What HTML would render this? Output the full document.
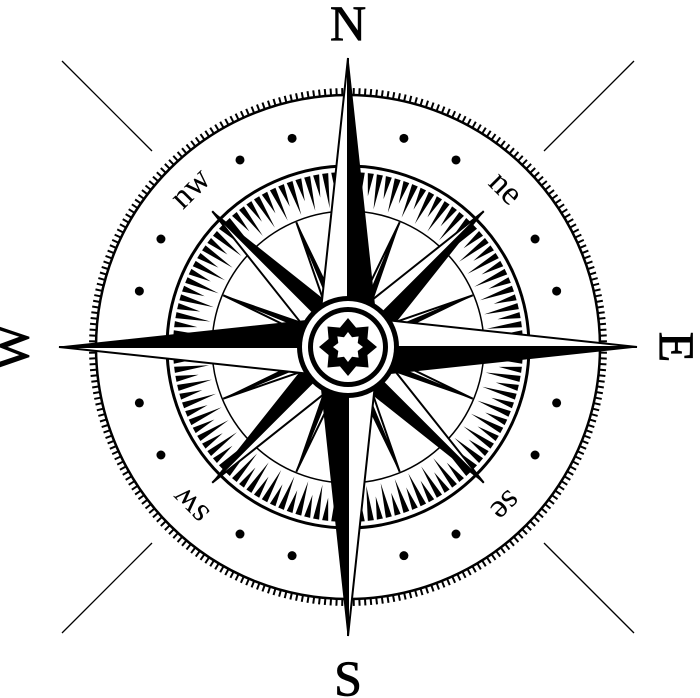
<!DOCTYPE html>
<html><head><meta charset="utf-8"><style>
html,body{margin:0;padding:0;background:#fff;overflow:hidden}
svg{display:block}
text{font-family:"Liberation Serif",serif;fill:#000}
</style></head><body>
<svg id="s" width="700" height="698" viewBox="0 0 700 698" xmlns="http://www.w3.org/2000/svg">
<g stroke="#000" stroke-width="1.3">
<line x1="62" y1="61" x2="152" y2="151"/>
<line x1="634" y1="61" x2="544" y2="151"/>
<line x1="62" y1="633" x2="152" y2="543"/>
<line x1="634" y1="633" x2="544" y2="543"/>
</g>
<text x="348" y="40" font-size="50" text-anchor="middle" stroke="#000" stroke-width="0.8">N</text>
<text x="348" y="695" font-size="50" text-anchor="middle" stroke="#000" stroke-width="0.8">S</text>
<text transform="translate(28,347) rotate(-90)" font-size="50" text-anchor="middle" stroke="#000" stroke-width="0.8">W</text>
<text transform="translate(660,347) rotate(90)" font-size="50" text-anchor="middle" stroke="#000" stroke-width="0.8">E</text>
<circle cx="348" cy="347" r="252" fill="none" stroke="#000" stroke-width="2.5"/>
<g id="ticks"></g>
<g id="dots"></g>
<text transform="translate(192,190) rotate(-45)" font-size="34" text-anchor="middle" dominant-baseline="middle">nw</text>
<text transform="translate(504,190) rotate(45)" font-size="34" text-anchor="middle" dominant-baseline="middle">ne</text>
<text transform="translate(504,504) rotate(135)" font-size="34" text-anchor="middle" dominant-baseline="middle">se</text>
<text transform="translate(192,504) rotate(-135)" font-size="34" text-anchor="middle" dominant-baseline="middle">sw</text>
<circle cx="348" cy="347" r="181" fill="none" stroke="#000" stroke-width="3"/>
<circle cx="348" cy="347" r="136" fill="none" stroke="#000" stroke-width="1.5"/>
<g id="spikes"></g>
<g id="star"></g>
<circle cx="348" cy="347" r="51" fill="#000"/>
<circle cx="348" cy="347" r="46" fill="#fff"/>
<circle cx="348" cy="347" r="40" fill="#000"/>
<circle cx="348" cy="347" r="35" fill="#fff"/>
<g id="emb"></g>
</svg>
<script>
var NS="http://www.w3.org/2000/svg",cx=348,cy=347;
function P(r,a){a=a*Math.PI/180;return [cx+r*Math.sin(a),cy-r*Math.cos(a)];}
function poly(g,pts,fill,stroke,sw){var e=document.createElementNS(NS,"polygon");e.setAttribute("points",pts.map(function(p){return p[0].toFixed(2)+","+p[1].toFixed(2)}).join(" "));e.setAttribute("fill",fill);if(stroke){e.setAttribute("stroke",stroke);e.setAttribute("stroke-width",sw);e.setAttribute("stroke-linejoin","miter");}document.getElementById(g).appendChild(e);}
var t=document.getElementById("ticks");
for(var i=0;i<280;i++){var an=i*360/280;var a=P(252,an),b=P(259,an);var l=document.createElementNS(NS,"line");l.setAttribute("x1",a[0]);l.setAttribute("y1",a[1]);l.setAttribute("x2",b[0]);l.setAttribute("y2",b[1]);l.setAttribute("stroke","#000");l.setAttribute("stroke-width","2");t.appendChild(l);}
var d=document.getElementById("dots");
for(var i=0;i<24;i++){var an=i*15;if(an%45==0)continue;var p=P(216,an);var c=document.createElementNS(NS,"circle");c.setAttribute("cx",p[0]);c.setAttribute("cy",p[1]);c.setAttribute("r","4.5");d.appendChild(c);}
for(var i=0;i<120;i++){var an=i*3+1.5;var inner=(i%2)?140:152;poly("spikes",[P(175,an-1),P(175,an+1),P(inner,an)],"#000");}
function arm(an,len,w){var tip=P(len,an);var L=P(w,an-90),R=P(w,an+90),C=[cx,cy];
poly("star",[tip,L,C],"#fff","#000",2);poly("star",[tip,C,R],"#000","#000",1);}
for(var k=0;k<8;k++){arm(22.5+45*k,135,8);}
for(var k=0;k<4;k++){arm(45+90*k,192,22);}
for(var k=0;k<4;k++){arm(90*k,289,31);}
function star8(ro,ri,fill){var pts=[];for(var i=0;i<16;i++){var an=i*22.5;pts.push(P(i%2?ri:ro,an));}poly("emb",pts,fill);}
star8(29,21,"#000");star8(15,10.5,"#fff");
</script>
</body></html>
